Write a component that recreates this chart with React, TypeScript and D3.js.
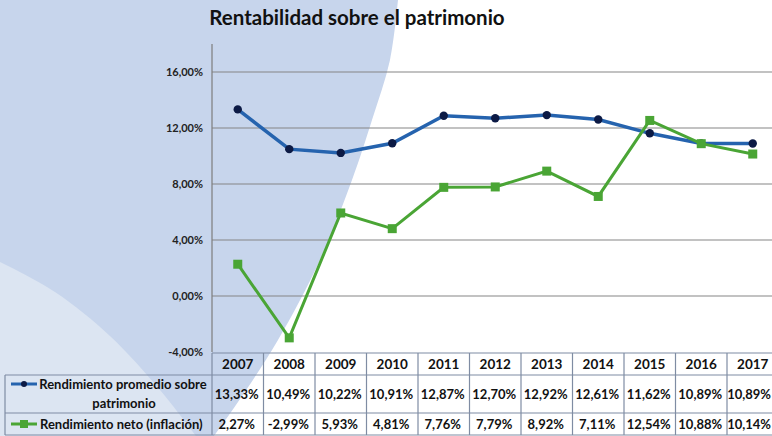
import { useEffect, useRef } from 'react'
import * as d3 from 'd3'

const years = ['2007', '2008', '2009', '2010', '2011', '2012', '2013', '2014', '2015', '2016', '2017']
const promedio = [13.33, 10.49, 10.22, 10.91, 12.87, 12.70, 12.92, 12.61, 11.62, 10.89, 10.89]
const neto = [2.27, -2.99, 5.93, 4.81, 7.76, 7.79, 8.92, 7.11, 12.54, 10.88, 10.14]
const yTicks = [-4, 0, 4, 8, 12, 16]
const seriesNames = ['Rendimiento promedio sobre', 'patrimonio', 'Rendimiento neto (inflación)']

const BLUE = '#2563ae'
const NAVY = '#0c1a45'
const GREEN = '#4aa535'
const FONT = 'Lato, "Open Sans", sans-serif'

const esLocale = d3.formatLocale({ decimal: ',', thousands: '.', grouping: [3], currency: ['', ''], minus: '-' })
const pct = (v: number) => esLocale.format('.2f')(v) + '%'

export default function App() {
  const svgRef = useRef<SVGSVGElement>(null)

  useEffect(() => {
    document.body.style.margin = '0'
    const W = 772
    const H = 436
    const left = 212
    const svg = d3.select(svgRef.current)
    svg.selectAll('*').remove()
    svg.attr('width', W).attr('height', H)

    // background swoosh
    svg.append('rect').attr('width', W).attr('height', H).attr('fill', '#ffffff')
    const edge = d3.line().curve(d3.curveCatmullRom)
    const blueEdge = edge([[398, 0], [390, 60], [372, 120], [352, 180], [320, 260], [278, 340], [238, 402], [214, 436]])
    svg.append('path')
      .attr('d', 'M0,0L' + (blueEdge as string).slice(1) + 'L0,436Z')
      .attr('fill', '#c7d5ec')
    const lightEdge = edge([[0, 262], [55, 292], [110, 336], [160, 390], [196, 436]])
    svg.append('path')
      .attr('d', (lightEdge as string) + 'L0,436Z')
      .attr('fill', '#dce5f2')

    const x = d3.scaleBand().domain(years).range([left, left + 51.5 * years.length])
    const y = d3.scaleLinear().domain([-4, 16]).range([352, 72])

    // title
    svg.append('text')
      .attr('x', 357).attr('y', 25)
      .attr('text-anchor', 'middle')
      .attr('font-family', FONT).attr('font-weight', 700).attr('font-size', '20.5px')
      .attr('fill', '#111')
      .text('Rentabilidad sobre el patrimonio')

    // grid
    svg.selectAll('.grid')
      .data(yTicks.filter(t => t !== -4))
      .join('line')
      .attr('class', 'grid')
      .attr('x1', left).attr('x2', W)
      .attr('y1', d => y(d)).attr('y2', d => y(d))
      .attr('stroke', '#858585').attr('stroke-width', 1.2)

    svg.append('line')
      .attr('x1', left).attr('x2', left).attr('y1', 44).attr('y2', 352)
      .attr('stroke', '#7d7d7d').attr('stroke-width', 1.2)

    svg.selectAll('.ytick')
      .data(yTicks)
      .join('text')
      .attr('class', 'ytick')
      .attr('x', 203)
      .attr('y', d => y(d))
      .attr('dy', '0.35em')
      .attr('text-anchor', 'end')
      .attr('font-family', FONT).attr('font-weight', 700).attr('font-size', '11px')
      .attr('fill', '#222')
      .text(d => pct(d))

    const cx = (i: number) => (x(years[i]) as number) + x.bandwidth() / 2
    const line = d3.line<number>().x((_, i) => cx(i)).y(d => y(d))

    svg.append('path').attr('d', line(promedio))
      .attr('fill', 'none').attr('stroke', BLUE).attr('stroke-width', 3.5)
    svg.selectAll('.dot')
      .data(promedio).join('circle').attr('class', 'dot')
      .attr('cx', (_, i) => cx(i)).attr('cy', d => y(d)).attr('r', 4.2)
      .attr('fill', NAVY)

    svg.append('path').attr('d', line(neto))
      .attr('fill', 'none').attr('stroke', GREEN).attr('stroke-width', 3)
    svg.selectAll('.sq')
      .data(neto).join('rect').attr('class', 'sq')
      .attr('x', (_, i) => cx(i) - 4.5).attr('y', d => y(d) - 4.5)
      .attr('width', 9).attr('height', 9)
      .attr('fill', GREEN)

    // data table
    const rows = [353, 375, 413, 435]
    const tableStroke = '#7f8ca3'
    const t = svg.append('g')
    t.append('line').attr('x1', left).attr('x2', W).attr('y1', rows[0]).attr('y2', rows[0])
      .attr('stroke', tableStroke).attr('stroke-width', 1.2)
    rows.slice(1).forEach(r => {
      t.append('line').attr('x1', 5).attr('x2', W).attr('y1', r).attr('y2', r)
        .attr('stroke', tableStroke).attr('stroke-width', 1.2)
    })
    t.append('line').attr('x1', 5).attr('x2', 5).attr('y1', rows[1]).attr('y2', rows[3])
      .attr('stroke', tableStroke).attr('stroke-width', 1.2)
    t.selectAll('.vline')
      .data(years)
      .join('line').attr('class', 'vline')
      .attr('x1', d => x(d) as number).attr('x2', d => x(d) as number)
      .attr('y1', rows[0]).attr('y2', rows[3])
      .attr('stroke', tableStroke).attr('stroke-width', 1.2)

    const cellText = (sel: d3.Selection<SVGTextElement, any, any, any>) => sel
      .attr('text-anchor', 'middle')
      .attr('font-family', FONT).attr('font-weight', 700)
      .attr('fill', '#111')

    t.selectAll('.year')
      .data(years).join('text').attr('class', 'year')
      .attr('x', (_, i) => cx(i)).attr('y', 369)
      .call(cellText).attr('font-size', '13.5px')
      .text(d => d)
    t.selectAll('.v1')
      .data(promedio).join('text').attr('class', 'v1')
      .attr('x', (_, i) => cx(i) - 1).attr('y', 399)
      .call(cellText).attr('font-size', '13px')
      .text(d => pct(d))
    t.selectAll('.v2')
      .data(neto).join('text').attr('class', 'v2')
      .attr('x', (_, i) => cx(i) - 1).attr('y', 429)
      .call(cellText).attr('font-size', '13px')
      .text(d => pct(d))

    // keep the last column's values inside the picture
    t.selectAll<SVGTextElement, number>('.v1, .v2').each(function () {
      const w = this.getComputedTextLength()
      const cur = +(this.getAttribute('x') || 0)
      if (cur + w / 2 > W - 1) d3.select(this).attr('x', W - 1 - w / 2)
    })

    // legend keys
    t.append('line').attr('x1', 11).attr('x2', 37).attr('y1', 384).attr('y2', 384)
      .attr('stroke', BLUE).attr('stroke-width', 3)
    t.append('circle').attr('cx', 24).attr('cy', 384).attr('r', 3).attr('fill', NAVY)
    t.append('line').attr('x1', 11).attr('x2', 37).attr('y1', 424).attr('y2', 424)
      .attr('stroke', GREEN).attr('stroke-width', 3)
    t.append('rect').attr('x', 20).attr('y', 420).attr('width', 8).attr('height', 8).attr('fill', GREEN)

    t.append('text').attr('x', 123).attr('y', 389).call(cellText).attr('font-size', '13px').text(seriesNames[0])
    t.append('text').attr('x', 124).attr('y', 408).call(cellText).attr('font-size', '13px').text(seriesNames[1])
    t.append('text').attr('x', 40).attr('y', 429).call(cellText).attr('text-anchor', 'start').attr('font-size', '13px').text(seriesNames[2])
  }, [])

  return <svg ref={svgRef} style={{ display: 'block' }} />
}
